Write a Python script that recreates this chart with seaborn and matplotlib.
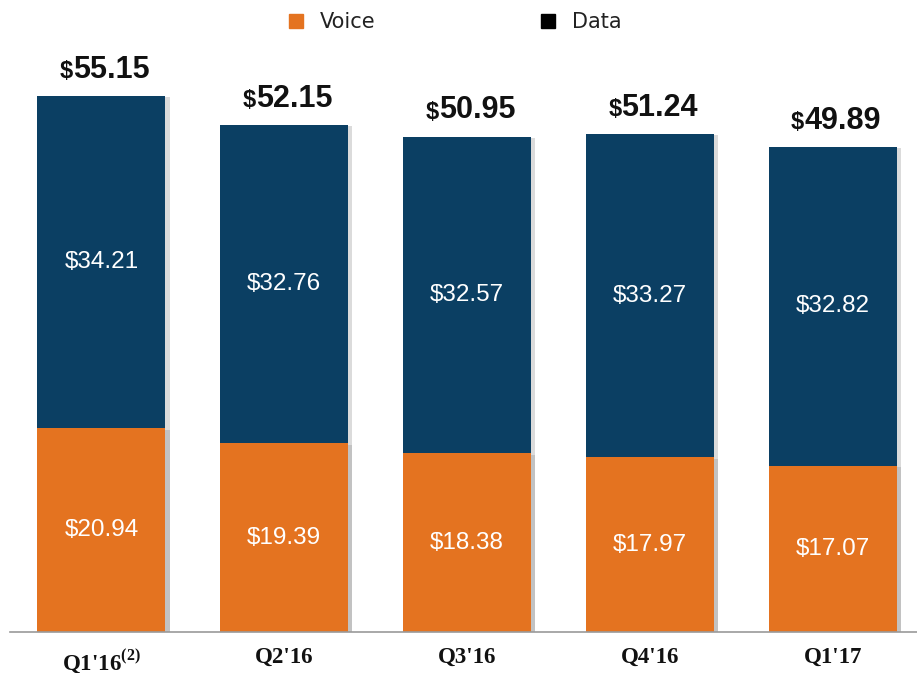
import numpy as np
import pandas as pd
import matplotlib.pyplot as plt
import seaborn as sns
from matplotlib.lines import Line2D
import matplotlib.patheffects as pe

# ARPU by quarter, voice + data
quarters = ["Q1'16", "Q2'16", "Q3'16", "Q4'16", "Q1'17"]
tick_labels = [r"Q1'16$^{\mathregular{(2)}}$", "Q2'16", "Q3'16", "Q4'16", "Q1'17"]
voice = [20.94, 19.39, 18.38, 17.97, 17.07]
data = [34.21, 32.76, 32.57, 33.27, 32.82]
totals = [55.15, 52.15, 50.95, 51.24, 49.89]

orange = '#E47320'
navy = '#0B3F63'

df = pd.DataFrame({'quarter': quarters, 'voice': voice, 'data': data})
df['stack'] = df['voice'] + df['data']

sns.set_theme(style='white')
plt.rcParams['font.family'] = ['Liberation Sans', 'DejaVu Sans']

fig = plt.figure(figsize=(9.17, 6.73), dpi=100)
ax = fig.add_axes([10 / 917, 41 / 673, 907 / 917, 632 / 673])

shadow = [pe.SimplePatchShadow(offset=(3, -1), shadow_rgbFace='#8a8a8a', alpha=0.3), pe.Normal()]

sns.barplot(data=df, x='quarter', y='stack', color=navy, width=0.70, saturation=1, ax=ax)
sns.barplot(data=df, x='quarter', y='voice', color=orange, width=0.70, saturation=1, ax=ax)
for p in ax.patches:
    p.set_linewidth(0)
    p.set_path_effects(shadow)

# segment labels
for i in range(len(quarters)):
    ax.text(i, voice[i] / 2, f'${voice[i]:.2f}', ha='center', va='center',
            color='white', fontsize=17.5)
    ax.text(i, voice[i] + data[i] / 2, f'${data[i]:.2f}', ha='center', va='center',
            color='white', fontsize=17.5)

# totals with small dollar sign
for i, t in enumerate(totals):
    num = ax.annotate(f'{t:.2f}', xy=(i, df['stack'][i]), xytext=(7, 8), textcoords='offset points',
                      ha='center', va='bottom', fontsize=22, fontweight='bold', color='#111111')
    ax.annotate('$', xy=(0, 0), xycoords=num, xytext=(0, 1), textcoords='offset points',
                ha='right', va='bottom', fontsize=17, fontweight='bold', color='#111111')

ax.set_xlim(-0.5, 4.46)
ax.set_ylim(0, 65)
ax.set_xlabel('')
ax.set_ylabel('')
ax.set_yticks([])
ax.set_xticks(range(len(quarters)))
ax.set_xticklabels(tick_labels, family='Liberation Serif', fontweight='bold', fontsize=16.5, color='#111111')
ax.tick_params(axis='x', length=0, pad=11)
for s in ['top', 'left', 'right']:
    ax.spines[s].set_visible(False)
ax.spines['bottom'].set_color('#9a9a9a')
ax.spines['bottom'].set_linewidth(1.2)

handles = [Line2D([], [], marker='s', linestyle='', color=orange, markersize=10),
           Line2D([], [], marker='s', linestyle='', color='black', markersize=10)]
fig.legend(handles, ['Voice', 'Data'], loc='upper center', bbox_to_anchor=(0.489, 1.01),
           ncol=2, frameon=False, columnspacing=7.3, handletextpad=0.15,
           prop={'family': 'DejaVu Sans', 'size': 15})
for t in fig.legends[0].get_texts():
    t.set_color('#222222')

fig.savefig('out.png', dpi=100)
